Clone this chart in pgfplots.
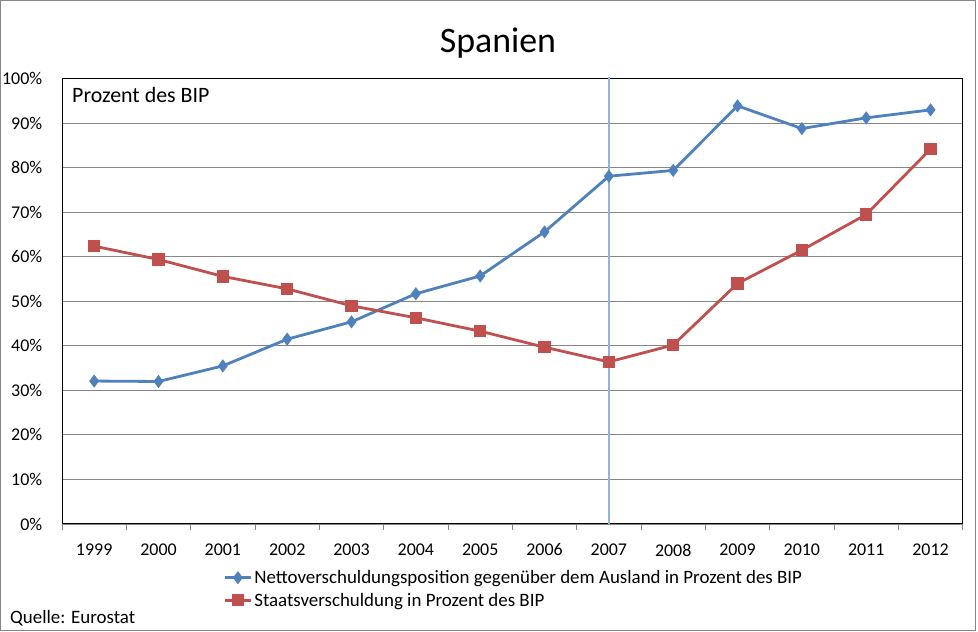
\documentclass[border=0pt]{standalone}
\usepackage{pgfplots}
\pgfplotsset{compat=1.18}
\usepackage{fontspec}
\setmainfont{Carlito}
\definecolor{exblue}{HTML}{4F81BD}
\definecolor{exred}{HTML}{C0504D}
\definecolor{gridgray}{HTML}{868686}
\definecolor{vline}{HTML}{95B3D7}
\begin{document}
\begin{tikzpicture}[x=1bp,y=1bp]
\useasboundingbox (0,0) rectangle (978,632);
\draw[gridgray,line width=1bp] (0.5,1.5) rectangle (975.5,631.5);
\begin{axis}[
  scale only axis,
  width=900.7bp, height=445.3bp,
  at={(62bp,108bp)}, anchor=south west,
  xmin=-0.5, xmax=13.5, ymin=0, ymax=100,
  xtick={0,...,13},
  xticklabels={1999,2000,2001,2002,2003,2004,2005,2006,2007,2008,2009,2010,2011,2012},
  minor xtick={-0.5,0.5,...,13.5},
  major x tick style={draw=none},
  minor tick length=6bp,
  tick align=outside,
  xtick pos=bottom,
  ytick={0,10,...,100},
  yticklabels={0\%,10\%,20\%,30\%,40\%,50\%,60\%,70\%,80\%,90\%,100\%},
  major y tick style={draw=none},
  ytick pos=left,
  ymajorgrids,
  grid style={gridgray,line width=0.9bp},
  axis line style={black,line width=1bp},
  tick style={gridgray,line width=0.9bp},
  /pgf/number format/assume math mode=true,
  ticklabel style={font=\fontsize{18}{21}\selectfont},
  xticklabel style={yshift=-12bp},
  yticklabel style={xshift=-12bp},
  legend style={at={(0.178,-0.097)},anchor=north west,draw=none,fill=none,
    font=\fontsize{19}{22}\selectfont,row sep=4bp,inner sep=1bp},
  legend cell align=left,
  legend image code/.code={\draw[mark repeat=2,mark phase=2] plot coordinates {(0bp,0bp)(13bp,0bp)(26bp,0bp)};},
  clip=false,
]
\addplot[vline,line width=1.5bp,forget plot] coordinates {(8,0) (8,100.4)};
\addplot[exblue,line width=2.8bp,mark=diamond*,mark size=4.3bp,mark options={solid}] coordinates {
(0,32.1) (1,32.0) (2,35.5) (3,41.5) (4,45.4) (5,51.7) (6,55.7) (7,65.6) (8,78.1) (9,79.4) (10,93.9) (11,88.8) (12,91.2) (13,93.0)};
\addlegendentry{Nettoverschuldungsposition gegenüber dem Ausland in Prozent des BIP}
\addplot[exred,line width=2.8bp,mark=square*,mark size=4.7bp,mark options={solid}] coordinates {
(0,62.4) (1,59.4) (2,55.6) (3,52.8) (4,49.0) (5,46.3) (6,43.3) (7,39.7) (8,36.4) (9,40.2) (10,54.0) (11,61.5) (12,69.5) (13,84.2)};
\addlegendentry{Staatsverschuldung in Prozent des BIP}
\end{axis}
\node[anchor=center,font=\fontsize{36}{42}\selectfont] at (498,589) {Spanien};
\node[anchor=west,inner sep=0pt,font=\fontsize{22}{26}\selectfont] at (72,537) {Prozent des BIP};
\node[anchor=west,inner sep=0pt,font=\fontsize{19}{22}\selectfont] at (10,14) {Quelle: Eurostat};
\end{tikzpicture}
\end{document}
